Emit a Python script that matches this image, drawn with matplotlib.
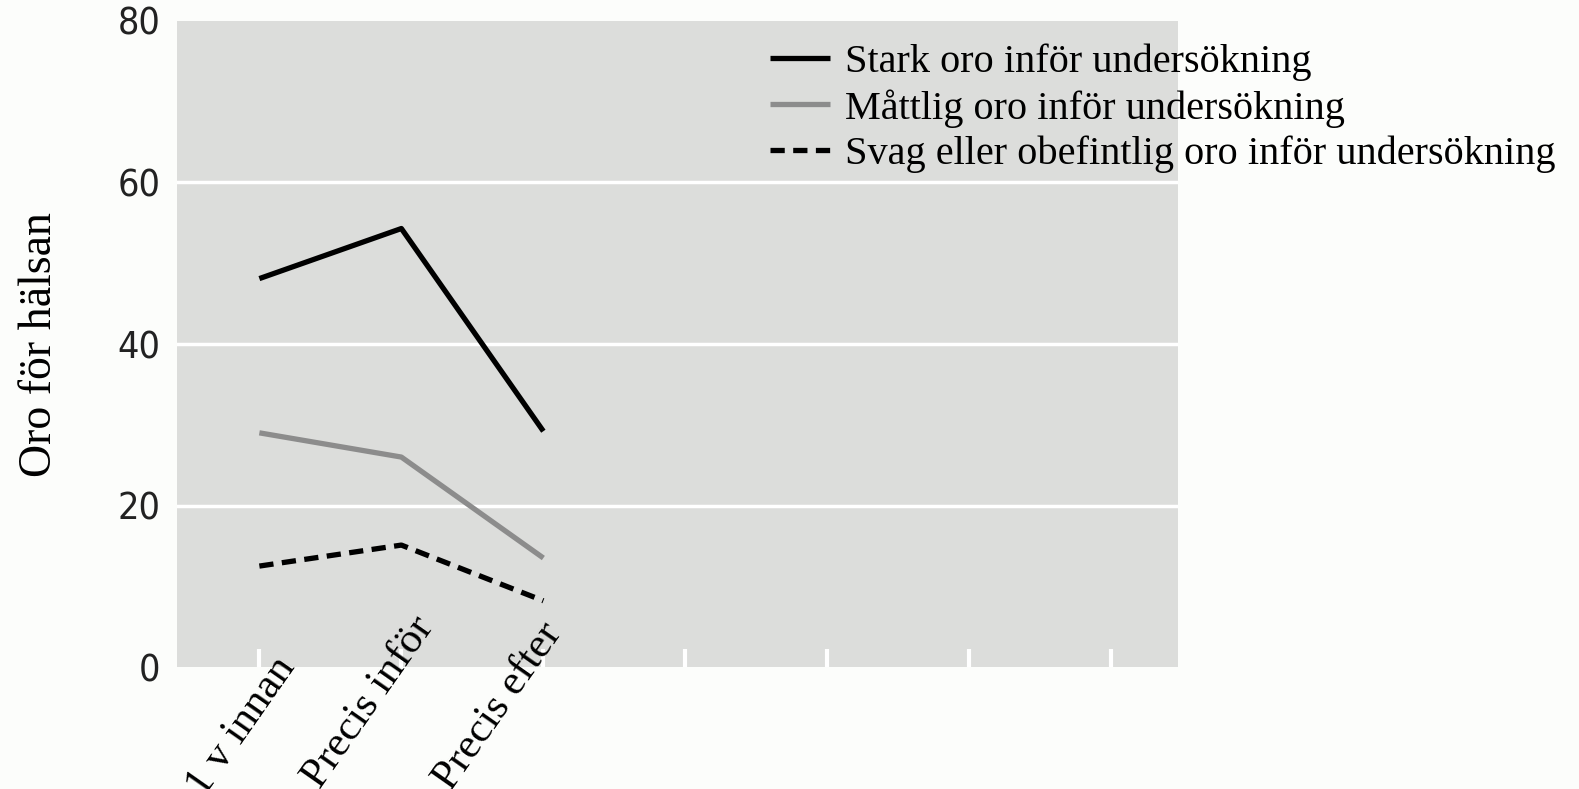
import matplotlib
matplotlib.use('Agg')
import matplotlib.pyplot as plt
from matplotlib.transforms import ScaledTranslation

# data
x_labels = ["1 v innan", "Precis inför", "Precis efter", "", "", "", ""]
stark = [48.1, 54.3, 29.2]
mattlig = [29.0, 26.0, 13.5]
svag = [12.5, 15.1, 8.2]
series_names = ["Stark oro inför undersökning",
                "Måttlig oro inför undersökning",
                "Svag eller obefintlig oro inför undersökning"]
y_ticks = [0, 20, 40, 60, 80]

fig = plt.figure(figsize=(15.79, 7.89), dpi=100)
fig.patch.set_facecolor('#fcfdfb')
ax = fig.add_axes([0.1121, 0.1546, 0.6340, 0.8188])
ax.set_facecolor('#dcdddb')

xs = range(len(stark))
ax.plot(xs, stark, color='black', lw=3.8, label=series_names[0], solid_capstyle='butt')
ax.plot(xs, mattlig, color='#8c8c8c', lw=3.8, label=series_names[1], solid_capstyle='butt')
ax.plot(xs, svag, color='black', lw=3.8, dashes=(2.7, 1.6), label=series_names[2], dash_capstyle='butt')

ax.set_xlim(-0.58, 6.47)
ax.set_ylim(0, 80)
for v in y_ticks[1:-1]:
    ax.axhline(v, color='white', lw=2.5, zorder=0.5)

for s in ax.spines.values():
    s.set_visible(False)

ax.set_yticks(y_ticks)
ax.set_yticklabels([str(v) for v in y_ticks], family='DejaVu Sans', stretch='condensed',
                   fontsize=27, color='#222222')
ax.tick_params(axis='y', length=0, pad=12)

ax.set_xticks(range(len(x_labels)))
ax.set_xticklabels(x_labels, family='Liberation Serif', fontsize=31,
                   rotation=55, ha='right', va='center', rotation_mode='anchor')
ax.tick_params(axis='x', direction='in', length=13, width=3, color='white', pad=0)
offsets = [(28, 6), (25, 46), (11, 40)]
for lab, (dx, dy) in zip(ax.get_xticklabels(), offsets):
    lab.set_transform(lab.get_transform() + ScaledTranslation(dx / 100, dy / 100, fig.dpi_scale_trans))

ax.set_ylabel("Oro för hälsan", family='Liberation Serif', fontsize=33)
ax.yaxis.set_label_coords(-0.116, 0.5)

fig.legend(loc='upper left', bbox_to_anchor=(0.4877, 0.945), frameon=False,
           prop={'family': 'Liberation Serif', 'size': 29},
           handlelength=1.5, handletextpad=0.35, labelspacing=0.2,
           borderpad=0, borderaxespad=0)

fig.savefig('out.png', dpi=100, facecolor=fig.get_facecolor())
